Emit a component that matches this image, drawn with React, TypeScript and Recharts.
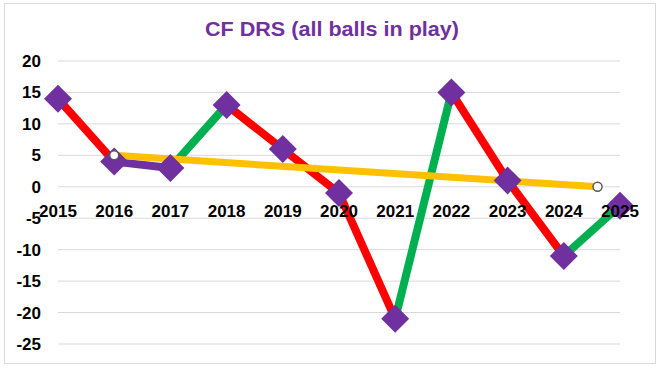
import { LineChart, Line, XAxis, YAxis, CartesianGrid } from "recharts";

const years = [2015, 2016, 2017, 2018, 2019, 2020, 2021, 2022, 2023, 2024, 2025];
const drs = [14, 4, 3, 13, 6, -1, -21, 15, 1, -11, -3];
// colour of the segment leaving each year
const segmentColors = [
  "#FF0000", "#7030A0", "#00B050", "#FF0000", "#FF0000",
  "#FF0000", "#00B050", "#FF0000", "#FF0000", "#00B050",
];
const trendYears = [2016, 2024.6];
const trendValues = [5, 0];
const yTicks = [-25, -20, -15, -10, -5, 0, 5, 10, 15, 20];

const FONT = "'Liberation Sans', Arial, sans-serif";
const PURPLE = "#7030A0";
const X_LABEL_DY = -127;

const points = years.map((y, i) => ({ x: y, v: drs[i] }));
const segments = segmentColors.map((color, i) => ({
  color,
  data: [points[i], points[i + 1]],
}));
const trend = trendYears.map((x, i) => ({ x, v: trendValues[i] }));

const Diamond = (props: any) => {
  const { cx, cy, index } = props;
  if (cx == null || cy == null) return null;
  const s = 14;
  return (
    <polygon
      key={`d-${index}`}
      points={`${cx},${cy - s} ${cx + s},${cy} ${cx},${cy + s} ${cx - s},${cy}`}
      fill={PURPLE}
    />
  );
};

const TrendDot = (props: any) => {
  const { cx, cy, index } = props;
  if (cx == null || cy == null) return null;
  return (
    <circle key={`t-${index}`} cx={cx} cy={cy} r={4.5} fill="#fff" stroke="#595959" strokeWidth={1.5} />
  );
};

const renderXTick = (props: any) => {
  const { x, y, payload, index } = props;
  return (
    <text
      key={`xt-${index}`}
      x={x}
      y={y + X_LABEL_DY}
      textAnchor="middle"
      fontSize={17}
      fontWeight="bold"
      fontFamily={FONT}
      fill="#000"
    >
      {payload.value}
    </text>
  );
};

export default function App() {
  return (
    <div
      style={{
        position: "absolute",
        left: 4,
        top: 3,
        width: 650,
        height: 359,
        border: "1px solid #d9d9d9",
        background: "#fff",
      }}
    >
      <svg width={650} height={50} style={{ position: "absolute", left: 0, top: 0 }}>
        <text
          x={327}
          y={32}
          textAnchor="middle"
          fontSize={21}
          fontWeight="bold"
          fontFamily={FONT}
          fill={PURPLE}
          textLength={254}
          lengthAdjust="spacingAndGlyphs"
        >
          CF DRS (all balls in play)
        </text>
      </svg>
      <LineChart
        width={650}
        height={359}
        margin={{ top: 57, right: 35, bottom: 0, left: 0 }}
        style={{ position: "absolute", left: 0, top: 0 }}
      >
        <CartesianGrid vertical={false} stroke="#d9d9d9" strokeWidth={1} />
        <XAxis
          type="number"
          dataKey="x"
          domain={[2015, 2025]}
          ticks={years}
          interval={0}
          height={19}
          axisLine={false}
          tickLine={false}
          tickSize={0}
          tickMargin={0}
          tick={renderXTick}
        />
        <YAxis
          type="number"
          domain={[-25, 20]}
          ticks={yTicks}
          interval={0}
          width={53}
          axisLine={false}
          tickLine={false}
          tickSize={0}
          tickMargin={17}
          tick={{ fontSize: 17, fontWeight: "bold", fill: "#000", fontFamily: FONT }}
        />
        {segments.map((seg, i) => (
          <Line
            key={`seg-${i}`}
            data={seg.data}
            dataKey="v"
            type="linear"
            stroke={seg.color}
            strokeWidth={8}
            dot={false}
            activeDot={false}
            isAnimationActive={false}
          />
        ))}
        <Line
          data={points}
          dataKey="v"
          type="linear"
          stroke="none"
          dot={<Diamond />}
          activeDot={false}
          isAnimationActive={false}
        />
        <Line
          data={trend}
          dataKey="v"
          type="linear"
          stroke="#FFC000"
          strokeWidth={7}
          dot={<TrendDot />}
          activeDot={false}
          isAnimationActive={false}
        />
      </LineChart>
    </div>
  );
}
